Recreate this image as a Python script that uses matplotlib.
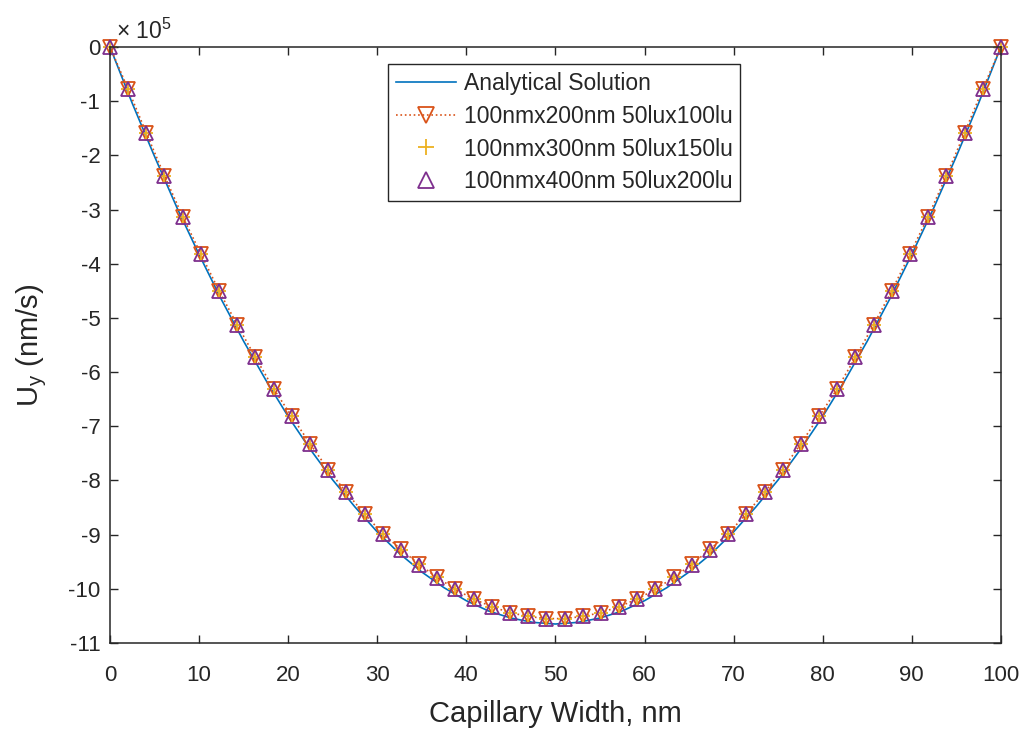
import matplotlib
matplotlib.use("Agg")
import matplotlib.pyplot as plt

plt.rcParams["font.family"] = ["Liberation Sans", "DejaVu Sans"]
plt.rcParams["axes.unicode_minus"] = False

# analytical profile, read every 2.5 nm (units of 1e5 nm/s)
x_exact = [0, 2.5, 5, 7.5, 10, 12.5, 15, 17.5, 20, 22.5, 25, 27.5, 30, 32.5, 35, 37.5,
           40, 42.5, 45, 47.5, 50, 52.5, 55, 57.5, 60, 62.5, 65, 67.5, 70, 72.5, 75,
           77.5, 80, 82.5, 85, 87.5, 90, 92.5, 95, 97.5, 100]
u_exact = [0, -1.04, -2.02, -2.96, -3.83, -4.66, -5.43, -6.15, -6.82, -7.43, -7.99,
           -8.49, -8.95, -9.35, -9.69, -9.98, -10.22, -10.41, -10.54, -10.62, -10.65,
           -10.62, -10.54, -10.41, -10.22, -9.98, -9.69, -9.35, -8.95, -8.49, -7.99,
           -7.43, -6.82, -6.15, -5.43, -4.66, -3.83, -2.96, -2.02, -1.04, 0]

# lattice node positions across the 100 nm capillary
x_lbm = [0, 2.04, 4.08, 6.12, 8.16, 10.20, 12.24, 14.29, 16.33, 18.37, 20.41, 22.45,
         24.49, 26.53, 28.57, 30.61, 32.65, 34.69, 36.73, 38.78, 40.82, 42.86, 44.90,
         46.94, 48.98, 51.02, 53.06, 55.10, 57.14, 59.18, 61.22, 63.27, 65.31, 67.35,
         69.39, 71.43, 73.47, 75.51, 77.55, 79.59, 81.63, 83.67, 85.71, 87.76, 89.80,
         91.84, 93.88, 95.92, 97.96, 100]
u_200 = [0, -0.78, -1.59, -2.38, -3.13, -3.82, -4.50, -5.13, -5.73, -6.31, -6.82,
         -7.32, -7.80, -8.22, -8.62, -8.98, -9.27, -9.55, -9.79, -10.01, -10.19,
         -10.33, -10.44, -10.51, -10.55, -10.55, -10.51, -10.44, -10.33, -10.19,
         -10.01, -9.79, -9.55, -9.27, -8.98, -8.62, -8.22, -7.80, -7.32, -6.82,
         -6.31, -5.73, -5.13, -4.50, -3.82, -3.13, -2.38, -1.59, -0.78, 0]
u_300 = [0, -0.78, -1.59, -2.38, -3.13, -3.82, -4.50, -5.13, -5.73, -6.31, -6.82,
         -7.32, -7.80, -8.22, -8.62, -8.98, -9.28, -9.55, -9.79, -10.01, -10.19,
         -10.33, -10.44, -10.51, -10.55, -10.55, -10.51, -10.44, -10.33, -10.19,
         -10.01, -9.79, -9.55, -9.28, -8.98, -8.62, -8.22, -7.80, -7.32, -6.82,
         -6.31, -5.73, -5.13, -4.50, -3.82, -3.13, -2.38, -1.59, -0.78, 0]
u_400 = [0, -0.78, -1.59, -2.38, -3.13, -3.82, -4.50, -5.13, -5.73, -6.31, -6.82,
         -7.32, -7.80, -8.22, -8.62, -8.98, -9.28, -9.56, -9.80, -10.01, -10.19,
         -10.33, -10.44, -10.51, -10.55, -10.55, -10.51, -10.44, -10.33, -10.19,
         -10.01, -9.80, -9.56, -9.28, -8.98, -8.62, -8.22, -7.80, -7.32, -6.82,
         -6.31, -5.73, -5.13, -4.50, -3.82, -3.13, -2.38, -1.59, -0.78, 0]

labels = ["Analytical Solution", "100nmx200nm 50lux100lu",
          "100nmx300nm 50lux150lu", "100nmx400nm 50lux200lu"]
xticks = list(range(0, 101, 10))
yticks = list(range(-11, 1))

TXT = "#262626"
fig = plt.figure(figsize=(10.24, 7.29), dpi=100)
ax = fig.add_axes([0.1074, 0.118, 0.870, 0.8176])

ax.plot(x_exact, u_exact, color="#0072BD", lw=1.2, label=labels[0])
ax.plot(x_lbm, u_200, ls=":", color="#D95319", lw=1.2, marker="v", ms=10,
        mfc="none", mew=1.3, label=labels[1], clip_on=False)
ax.plot(x_lbm, u_300, ls="none", color="#EDB120", marker="+", ms=10,
        mew=1.3, label=labels[2], clip_on=False)
ax.plot(x_lbm, u_400, ls="none", color="#7E2F8E", marker="^", ms=10,
        mfc="none", mew=1.3, label=labels[3], clip_on=False)

ax.set_xlim(0, 100)
ax.set_ylim(-11, 0)
ax.set_xticks(xticks)
ax.set_yticks(yticks)
ax.tick_params(direction="in", length=6, width=1, top=True, right=True,
               labelsize=16, colors=TXT)
ax.tick_params(axis="x", pad=16)
ax.tick_params(axis="y", pad=7)
for s in ax.spines.values():
    s.set_color(TXT)
    s.set_linewidth(1.1)

ax.set_xlabel("Capillary Width, nm", fontsize=21, color=TXT, labelpad=10)
ax.set_ylabel("U$_\\mathregular{y}$ (nm/s)", fontsize=21, color=TXT, labelpad=14)
ax.text(0.007, 1.005, "\u00d7 10$^\\mathregular{5}$", transform=ax.transAxes,
        fontsize=16.5, color=TXT, ha="left", va="bottom")

leg = ax.legend(loc="upper left", bbox_to_anchor=(0.312, 0.971), fontsize=16.5,
                frameon=True, fancybox=False, framealpha=1, edgecolor=TXT,
                handlelength=2.6, handletextpad=0.35, labelspacing=0.42,
                borderpad=0.35, borderaxespad=0, markerscale=1.15)
leg.get_frame().set_linewidth(1.0)
for t in leg.get_texts():
    t.set_color(TXT)

fig.savefig("out.png", dpi=100)
